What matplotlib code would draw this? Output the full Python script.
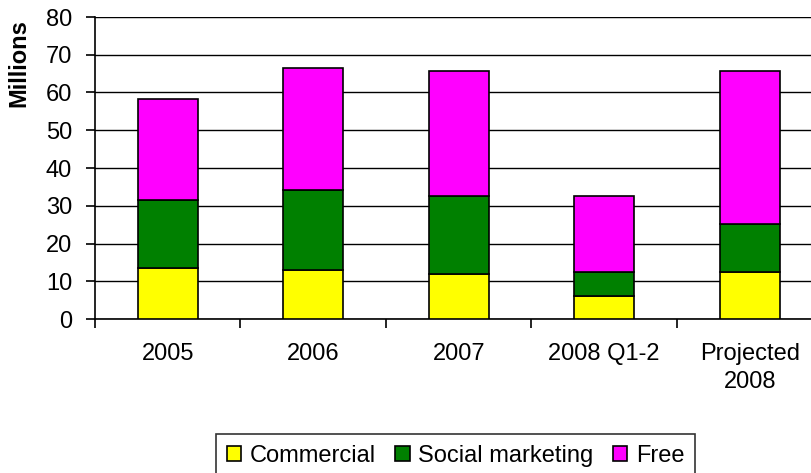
import matplotlib.pyplot as plt
import numpy as np

plt.rcParams['font.family'] = ['Liberation Sans', 'DejaVu Sans']

categories = ['2005', '2006', '2007', '2008 Q1-2', 'Projected\n2008']
commercial = [13.6, 13.0, 11.9, 6.2, 12.5]
social = [18.0, 21.3, 20.8, 6.3, 12.7]
free = [26.6, 32.3, 32.9, 20.2, 40.5]

W, H = 812, 473
fs = 17
fig = plt.figure(figsize=(W / 100, H / 100), dpi=100)
ax = fig.add_axes([95 / W, (H - 319) / H, (822.5 - 95) / W, (319 - 17) / H])

x = np.arange(len(categories))
bw = 0.41
c = np.array(commercial)
s = np.array(social)
f = np.array(free)
ax.bar(x, c, bw, color='#ffff00', edgecolor='black', linewidth=1.2, label='Commercial', zorder=3)
ax.bar(x, s, bw, bottom=c, color='#008000', edgecolor='black', linewidth=1.2, label='Social marketing', zorder=3)
ax.bar(x, f, bw, bottom=c + s, color='#ff00ff', edgecolor='black', linewidth=1.2, label='Free', zorder=3)

ax.set_xlim(-0.5, len(categories) - 0.5)
ax.set_ylim(0, 80)
ax.set_yticks(range(0, 81, 10))
ax.yaxis.grid(True, color='black', linewidth=1.0, zorder=0)
ax.set_xticks(x)
ax.set_xticklabels(categories, fontsize=fs, linespacing=1.35)
ax.set_xticks(np.arange(len(categories) + 1) - 0.5, minor=True)
ax.tick_params(axis='x', which='major', length=0, pad=17)
ax.tick_params(axis='x', which='minor', length=6.5, width=1.2, direction='out')
ax.tick_params(axis='y', length=6.5, width=1.2, direction='out', labelsize=fs, pad=10)

for side in ['top', 'right']:
    ax.spines[side].set_visible(False)
ax.spines['left'].set_linewidth(1.2)
ax.spines['bottom'].set_linewidth(1.2)
ax.axhline(80, color='#808080', linewidth=1.5, zorder=1)

fig.text(19 / W, (H - 63) / H, 'Millions', rotation=90, fontsize=fs, fontweight='bold',
         ha='center', va='center')

# legend box runs off the bottom edge
leg = fig.legend(loc='center', bbox_to_anchor=(455.5 / W, (H - 456) / H), ncol=3, fontsize=fs,
                 frameon=True, fancybox=False, edgecolor='black', handlelength=0.6,
                 handleheight=0.6, handletextpad=0.35, columnspacing=0.85, borderpad=0.48,
                 borderaxespad=0)
leg.get_frame().set_linewidth(1.2)

fig.savefig('out.png', dpi=100)
